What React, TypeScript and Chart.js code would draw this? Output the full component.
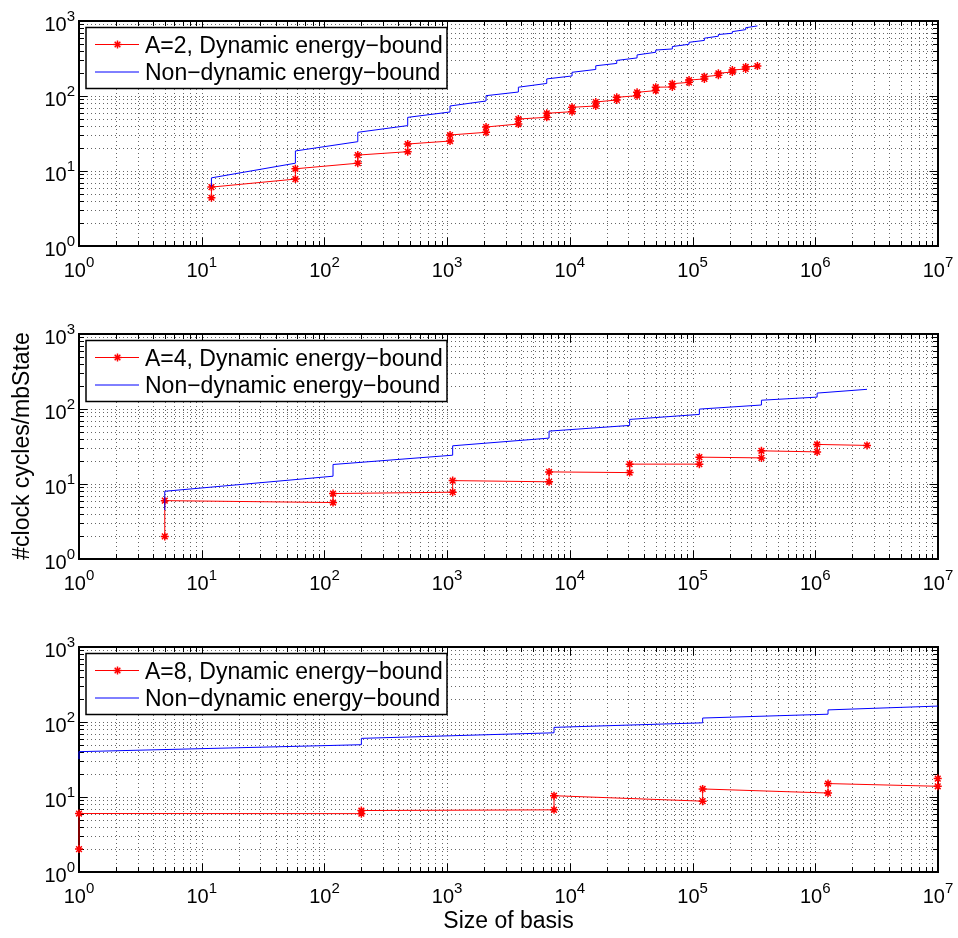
import React, { useEffect, useRef } from 'react';
import { Chart, registerables } from 'chart.js';

Chart.register(...registerables);

const FONT = '"Liberation Sans", Arial, Helvetica, sans-serif';

// ---------- Data ----------
// Panel 1: A=2
const A2_X = [12, 58, 187, 477, 1056, 2075, 3805, 6483, 10420, 16260, 24100, 35300, 50100, 68400, 93600, 124800, 162300, 211000, 271000, 337600];
const A2_RED_LOW = [4.4, 7.8, 12.7, 18.1, 25.1, 32.8, 42.3, 52, 61.8, 73.6, 88.5, 101, 118, 132, 152, 169, 189, 209, 229, 251];
const A2_RED_HIGH = [6.1, 10.7, 16.3, 22.9, 30.2, 38.6, 49.3, 58.8, 70.7, 83.2, 96, 112, 131, 146, 163, 181, 201, 222, 244, null];
const A2_BLUE_LOW = [6.2, 12.7, 24.6, 40.3, 61.2, 85.8, 113, 147, 185, 226, 272, 322, 383, 424, 490, 551, 627, 687, 767, 860];
const A2_BLUE_HIGH = [8.1, 18.5, 32.8, 51.9, 73.6, 101, 131, 169, 207, 253, 298, 353, 410, 456, 520, 590, 660, 722, 813, null];

// Panel 2: A=4
const A4_X = [5, 117.5, 1109, 6770, 30700, 113600, 364000, 1035000, 2640000];
const A4_RED_LOW = [2, 5.66, 7.77, 10.7, 14.2, 18.4, 22.3, 26.8, 32.7];
const A4_RED_HIGH = [6, 7.46, 11.1, 14.5, 18.4, 22.8, 27.7, 33.7, null];
const A4_BLUE_LOW = [4.5, 12.7, 24.2, 40.9, 60.4, 84.7, 113, 144, 183];
const A4_BLUE_HIGH = [8.0, 18.2, 32.3, 50.7, 72.6, 99.7, 131, 163, null];

// Panel 3: A=8
const A8_X = [1, 200, 7430, 120800, 1270000, 9950000];
const A8_RED_LOW = [2.02, 6.0, 6.74, 8.8, 11.3, 13.9];
const A8_RED_HIGH = [6.02, 6.6, 10.4, 12.8, 15.1, 17.6];
const A8_BLUE_LOW = [32, 49.8, 71.8, 97.5, 127, 163];
const A8_BLUE_HIGH = [40.2, 60.5, 84.8, 113, 145, null];

// Axis ticks (powers of ten)
const X_TICK_EXPONENTS = [0, 1, 2, 3, 4, 5, 6, 7];
const Y_TICK_EXPONENTS = [0, 1, 2, 3];
const MINOR_MULTIPLIERS = [2, 3, 4, 5, 6, 7, 8, 9];

const LEGEND_RED = ['A=2, Dynamic energy\u2212bound', 'A=4, Dynamic energy\u2212bound', 'A=8, Dynamic energy\u2212bound'];
const LEGEND_BLUE = 'Non\u2212dynamic energy\u2212bound';
const Y_TITLE = '#clock cycles/mbState';
const X_TITLE = 'Size of basis';

function stepPoints(xs: number[], low: (number | null)[], high: (number | null)[]) {
  const pts: { x: number; y: number }[] = [];
  xs.forEach((x, i) => {
    if (low[i] != null) pts.push({ x, y: low[i] as number });
    if (high[i] != null) pts.push({ x, y: high[i] as number });
  });
  return pts;
}

function drawStar(ctx: CanvasRenderingContext2D, x: number, y: number, r: number) {
  const d = r * Math.SQRT1_2;
  ctx.beginPath();
  ctx.moveTo(x - r, y); ctx.lineTo(x + r, y);
  ctx.moveTo(x, y - r); ctx.lineTo(x, y + r);
  ctx.moveTo(x - d, y - d); ctx.lineTo(x + d, y + d);
  ctx.moveTo(x - d, y + d); ctx.lineTo(x + d, y - d);
  ctx.stroke();
}

function drawPow(ctx: CanvasRenderingContext2D, exp: number, anchorX: number, baseY: number, mode: 'center' | 'right') {
  const baseFont = `20px ${FONT}`;
  const expFont = `15px ${FONT}`;
  ctx.font = baseFont;
  const wb = ctx.measureText('10').width;
  ctx.font = expFont;
  const we = ctx.measureText(String(exp)).width;
  const total = wb + we;
  const x0 = mode === 'center' ? anchorX - total / 2 : anchorX - total;
  ctx.fillStyle = '#000';
  ctx.textAlign = 'left';
  ctx.textBaseline = 'alphabetic';
  ctx.font = baseFont;
  ctx.fillText('10', x0, baseY);
  ctx.font = expFont;
  ctx.fillText(String(exp), x0 + wb, baseY - 10);
}

type PanelCfg = {
  idx: number;
  top: number;
  height: number;
  padTop: number;
  padBottom: number;
  xs: number[];
  redLow: (number | null)[];
  redHigh: (number | null)[];
  blueLow: (number | null)[];
  blueHigh: (number | null)[];
};

function makePlugin(cfg: PanelCfg) {
  return {
    id: 'matlabAxes' + cfg.idx,
    beforeDatasetsDraw(chart: any) {
      const { ctx, chartArea: a, scales } = chart;
      const xs = scales.x;
      const ys = scales.y;
      ctx.save();
      // grid (dotted)
      ctx.lineWidth = 1;
      ctx.strokeStyle = 'rgba(0,0,0,0.6)';
      ctx.setLineDash([1, 3]);
      const xVals: number[] = [];
      X_TICK_EXPONENTS.forEach((e) => {
        xVals.push(Math.pow(10, e));
        if (e < X_TICK_EXPONENTS[X_TICK_EXPONENTS.length - 1]) MINOR_MULTIPLIERS.forEach((m) => xVals.push(m * Math.pow(10, e)));
      });
      const yVals: number[] = [];
      Y_TICK_EXPONENTS.forEach((e) => {
        yVals.push(Math.pow(10, e));
        if (e < Y_TICK_EXPONENTS[Y_TICK_EXPONENTS.length - 1]) MINOR_MULTIPLIERS.forEach((m) => yVals.push(m * Math.pow(10, e)));
      });
      xVals.forEach((v) => {
        const px = Math.round(xs.getPixelForValue(v)) + 0.5;
        if (px < a.left + 2 || px > a.right - 2) return;
        ctx.beginPath();
        ctx.moveTo(px, a.top);
        ctx.lineTo(px, a.bottom);
        ctx.stroke();
      });
      yVals.forEach((v) => {
        const py = Math.round(ys.getPixelForValue(v)) + 0.5;
        if (py < a.top + 2 || py > a.bottom - 2) return;
        ctx.beginPath();
        ctx.moveTo(a.left, py);
        ctx.lineTo(a.right, py);
        ctx.stroke();
      });
      ctx.setLineDash([]);
      // ticks (inward, all four sides)
      ctx.strokeStyle = '#000';
      ctx.lineWidth = 1;
      xVals.forEach((v) => {
        const isMajor = Math.abs(Math.log10(v) - Math.round(Math.log10(v))) < 1e-9;
        const len = isMajor ? 8.5 : 5;
        const px = Math.round(xs.getPixelForValue(v)) + 0.5;
        ctx.beginPath();
        ctx.moveTo(px, a.bottom); ctx.lineTo(px, a.bottom - len);
        ctx.moveTo(px, a.top); ctx.lineTo(px, a.top + len);
        ctx.stroke();
      });
      yVals.forEach((v) => {
        const isMajor = Math.abs(Math.log10(v) - Math.round(Math.log10(v))) < 1e-9;
        const len = isMajor ? 8.5 : 5;
        const py = Math.round(ys.getPixelForValue(v)) + 0.5;
        ctx.beginPath();
        ctx.moveTo(a.left, py); ctx.lineTo(a.left + len, py);
        ctx.moveTo(a.right, py); ctx.lineTo(a.right - len, py);
        ctx.stroke();
      });
      // frame
      ctx.lineWidth = 2;
      ctx.strokeRect(a.left, a.top, a.right - a.left, a.bottom - a.top);
      // tick labels
      X_TICK_EXPONENTS.forEach((e) => {
        drawPow(ctx, e, xs.getPixelForValue(Math.pow(10, e)), a.bottom + 30.5, 'center');
      });
      Y_TICK_EXPONENTS.forEach((e) => {
        drawPow(ctx, e, a.left - 4, ys.getPixelForValue(Math.pow(10, e)) + 9.5, 'right');
      });
      ctx.restore();
    },
    afterDatasetsDraw(chart: any) {
      const { ctx, chartArea: a } = chart;
      ctx.save();
      // legend box
      const bx = a.left + 7;
      const by = a.top + 6.5;
      const bw = 361;
      const bh = 61;
      ctx.fillStyle = '#fff';
      ctx.fillRect(bx, by, bw, bh);
      ctx.strokeStyle = '#000';
      ctx.lineWidth = 1.5;
      ctx.strokeRect(bx, by, bw, bh);
      const r1 = by + 17;
      const r2 = by + 44.5;
      ctx.lineWidth = 1;
      ctx.strokeStyle = '#ff0000';
      ctx.beginPath();
      ctx.moveTo(bx + 9, r1); ctx.lineTo(bx + 53, r1);
      ctx.stroke();
      ctx.lineWidth = 1.5;
      drawStar(ctx, bx + 31.5, r1, 4);
      ctx.lineWidth = 1;
      ctx.strokeStyle = '#0000ff';
      ctx.beginPath();
      ctx.moveTo(bx + 9, r2); ctx.lineTo(bx + 53, r2);
      ctx.stroke();
      ctx.fillStyle = '#000';
      ctx.font = `23px ${FONT}`;
      ctx.textAlign = 'left';
      ctx.textBaseline = 'alphabetic';
      ctx.fillText(LEGEND_RED[cfg.idx], bx + 59, r1 + 8);
      ctx.fillText(LEGEND_BLUE, bx + 59, r2 + 8);
      // axis titles
      if (cfg.idx === 1) {
        ctx.save();
        ctx.translate(29, 446 - cfg.top);
        ctx.rotate(-Math.PI / 2);
        ctx.textAlign = 'center';
        ctx.fillText(Y_TITLE, 0, 0);
        ctx.restore();
      }
      if (cfg.idx === 2) {
        ctx.textAlign = 'center';
        ctx.fillText(X_TITLE, (a.left + a.right) / 2, 928 - cfg.top);
      }
      ctx.restore();
    },
  };
}

const PANELS: PanelCfg[] = [
  { idx: 0, top: 0, height: 300, padTop: 21, padBottom: 54, xs: A2_X, redLow: A2_RED_LOW, redHigh: A2_RED_HIGH, blueLow: A2_BLUE_LOW, blueHigh: A2_BLUE_HIGH },
  { idx: 1, top: 300, height: 310, padTop: 34, padBottom: 51, xs: A4_X, redLow: A4_RED_LOW, redHigh: A4_RED_HIGH, blueLow: A4_BLUE_LOW, blueHigh: A4_BLUE_HIGH },
  { idx: 2, top: 610, height: 328, padTop: 37, padBottom: 66, xs: A8_X, redLow: A8_RED_LOW, redHigh: A8_RED_HIGH, blueLow: A8_BLUE_LOW, blueHigh: A8_BLUE_HIGH },
];

function Panel({ cfg }: { cfg: PanelCfg }) {
  const ref = useRef<HTMLCanvasElement | null>(null);
  useEffect(() => {
    if (!ref.current) return;
    const chart = new Chart(ref.current, {
      type: 'line',
      data: {
        datasets: [
          {
            label: 'Non-dynamic',
            data: stepPoints(cfg.xs, cfg.blueLow, cfg.blueHigh),
            borderColor: '#0000ff',
            borderWidth: 1,
            pointRadius: 0,
            tension: 0,
            clip: false as any,
          },
          {
            label: 'Dynamic',
            data: stepPoints(cfg.xs, cfg.redLow, cfg.redHigh),
            borderColor: '#ff0000',
            borderWidth: 1,
            pointStyle: 'star',
            pointRadius: 4,
            pointBorderWidth: 1.5,
            pointBorderColor: '#ff0000',
            pointBackgroundColor: '#ff0000',
            tension: 0,
            clip: false as any,
          },
        ],
      },
      options: {
        responsive: false,
        animation: false,
        events: [],
        layout: { padding: { left: 79, right: 20, top: cfg.padTop, bottom: cfg.padBottom } },
        plugins: { legend: { display: false }, tooltip: { enabled: false } },
        scales: {
          x: { type: 'logarithmic', min: 1, max: 1e7, display: false },
          y: { type: 'logarithmic', min: 1, max: 1000, display: false },
        },
      },
      plugins: [makePlugin(cfg)],
    });
    return () => chart.destroy();
  }, [cfg]);
  return (
    <canvas
      ref={ref}
      width={958}
      height={cfg.height}
      style={{ position: 'absolute', left: 0, top: cfg.top, width: 958, height: cfg.height }}
    />
  );
}

export default function App() {
  return (
    <div style={{ position: 'absolute', left: 0, top: 0, width: 958, height: 938, background: '#fff' }}>
      {PANELS.map((p) => (
        <Panel key={p.idx} cfg={p} />
      ))}
    </div>
  );
}
